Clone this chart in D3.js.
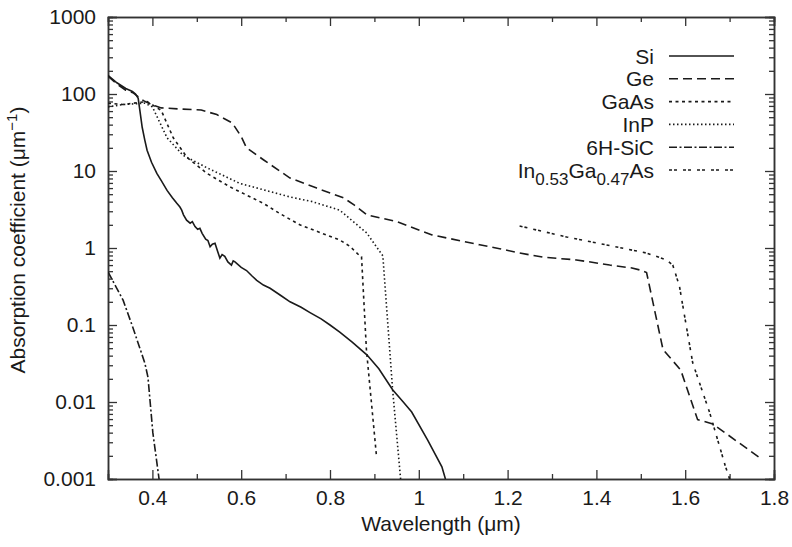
<!DOCTYPE html>
<html>
<head>
<meta charset="utf-8">
<script src="https://cdn.jsdelivr.net/npm/d3@7"></script>
<style>
    body { margin: 0; background: #fff; }
    text { font-family: "Liberation Sans", Arial, Helvetica, sans-serif; fill: #1a1a1a; }
    .axis path, .axis line { stroke: #333; }
    .curve { fill: none; stroke: #1a1a1a; stroke-width: 1.6; }
</style>
</head>
<body>
<div id="chart"></div>
<script>

// absorption coefficient (um^-1) against wavelength (um)
var si = [[0.300, 175], [0.320, 140], [0.340, 118], [0.355, 108], [0.362, 100], [0.368, 88], [0.372, 60],
    [0.377, 37], [0.383, 25], [0.388, 18.6], [0.398, 13], [0.410, 9.3], [0.420, 7.5], [0.433, 5.6],
    [0.445, 4.5], [0.455, 3.8], [0.462, 3.4], [0.466, 3.1], [0.470, 2.7], [0.477, 2.3], [0.485, 2.1],
    [0.490, 2.2], [0.496, 1.9], [0.502, 1.75], [0.507, 1.8], [0.512, 1.55], [0.520, 1.3], [0.525, 1.25],
    [0.530, 1.04], [0.535, 1.12], [0.541, 1.15], [0.547, 0.9], [0.552, 0.74], [0.557, 0.82], [0.563, 0.78],
    [0.570, 0.66], [0.578, 0.60], [0.582, 0.68], [0.586, 0.66], [0.600, 0.56], [0.612, 0.51], [0.625, 0.43],
    [0.635, 0.38], [0.650, 0.33], [0.665, 0.30], [0.690, 0.24], [0.710, 0.20], [0.735, 0.17], [0.755, 0.145],
    [0.780, 0.12], [0.800, 0.10], [0.822, 0.081], [0.850, 0.06], [0.883, 0.041], [0.910, 0.027],
    [0.941, 0.0144], [0.965, 0.010], [0.984, 0.0074], [1.020, 0.0032], [1.052, 0.00144], [1.060, 0.001]];

var ge = [[0.300, 170], [0.320, 135], [0.340, 112], [0.356, 104], [0.380, 82], [0.400, 72], [0.420, 66],
    [0.460, 64], [0.510, 62], [0.545, 54], [0.580, 42], [0.600, 28], [0.612, 20], [0.650, 14], [0.710, 8.1],
    [0.770, 6.0], [0.830, 4.5], [0.855, 3.6], [0.883, 2.7], [0.950, 2.2], [1.030, 1.48], [1.137, 1.1],
    [1.182, 0.98], [1.227, 0.86], [1.280, 0.76], [1.355, 0.70], [1.400, 0.64], [1.430, 0.60], [1.480, 0.55],
    [1.497, 0.52], [1.513, 0.48], [1.550, 0.048], [1.590, 0.026], [1.628, 0.0059], [1.662, 0.0052],
    [1.767, 0.0019]];

var gaas = [[0.300, 76], [0.333, 73], [0.388, 80], [0.420, 61], [0.447, 27], [0.478, 15], [0.523, 9.3],
    [0.575, 6.2], [0.650, 3.8], [0.687, 2.8], [0.732, 2.0], [0.822, 1.27], [0.845, 1.05], [0.867, 0.79],
    [0.871, 0.77], [0.882, 0.048], [0.905, 0.0019]];

var inp = [[0.300, 68], [0.333, 73], [0.383, 76], [0.400, 68], [0.433, 27], [0.469, 16], [0.523, 11],
    [0.597, 6.9], [0.710, 4.6], [0.760, 4.0], [0.822, 3.1], [0.883, 1.56], [0.919, 0.79], [0.941, 0.0145],
    [0.959, 0.001]];

var sic = [[0.300, 0.49], [0.334, 0.21], [0.356, 0.093], [0.383, 0.032], [0.390, 0.021], [0.401, 0.004],
    [0.415, 0.001]];

var ingaas = [[1.227, 1.93], [1.333, 1.39], [1.446, 1.03], [1.513, 0.86], [1.558, 0.70], [1.572, 0.60],
    [1.587, 0.32], [1.605, 0.08], [1.617, 0.032], [1.655, 0.0073], [1.690, 0.0015], [1.700, 0.001]];

var seriesNames = ['Si', 'Ge', 'GaAs', 'InP', '6H-SiC', 'InGaAs'];
var seriesData = [si, ge, gaas, inp, sic, ingaas];
var dashes = ['none', '9,5', '3,3.5', '1.5,2.5', '8,2.5,2,2.5', '3,2,3,6'];

var xTicks = [0.4, 0.6, 0.8, 1, 1.2, 1.4, 1.6, 1.8];
var xMinor = [0.3, 0.5, 0.7, 0.9, 1.1, 1.3, 1.5, 1.7];
var yTicks = [0.001, 0.01, 0.1, 1, 10, 100, 1000];
var yTickLabels = ['0.001', '0.01', '0.1', '1', '10', '100', '1000'];


var width = 792, height = 547;
var margin = { top: 17, right: 18, bottom: 68, left: 108 };
var w = width - margin.left - margin.right;
var h = height - margin.top - margin.bottom;

var svg = d3.select('#chart')
    .append('svg')
    .attr('width', width)
    .attr('height', height);

var g = svg.append('g')
    .attr('transform', 'translate(' + margin.left + ',' + margin.top + ')');

var x = d3.scaleLinear().domain([0.3, 1.8]).range([0, w]);
var y = d3.scaleLog().domain([0.001, 1000]).range([h, 0]);

// minor log ticks 2..9 in every decade
var yMinor = [];
yTicks.slice(0, -1).forEach(function (d) {
    for (var k = 2; k <= 9; k++) yMinor.push(d * k);
});

g.append('defs').append('clipPath')
    .attr('id', 'clip')
    .append('rect')
    .attr('width', w)
    .attr('height', h);

// axes: ticks point inward on all four sides
var fmtY = function (d) { return yTickLabels[yTicks.indexOf(d)]; };

g.append('g').attr('class', 'axis')
    .attr('transform', 'translate(0,' + h + ')')
    .call(d3.axisBottom(x).tickValues(xTicks).tickSize(-9).tickPadding(11).tickFormat(d3.format('')));
g.append('g').attr('class', 'axis')
    .attr('transform', 'translate(0,' + h + ')')
    .call(d3.axisBottom(x).tickValues(xMinor).tickSize(-5).tickFormat(''));
g.append('g').attr('class', 'axis')
    .call(d3.axisTop(x).tickValues(xTicks).tickSize(-9).tickFormat(''));
g.append('g').attr('class', 'axis')
    .call(d3.axisTop(x).tickValues(xMinor).tickSize(-5).tickFormat(''));

g.append('g').attr('class', 'axis')
    .call(d3.axisLeft(y).tickValues(yTicks).tickSize(-9).tickPadding(12).tickFormat(fmtY));
g.append('g').attr('class', 'axis')
    .call(d3.axisLeft(y).tickValues(yMinor).tickSize(-5).tickFormat(''));
g.append('g').attr('class', 'axis')
    .attr('transform', 'translate(' + w + ',0)')
    .call(d3.axisRight(y).tickValues(yTicks).tickSize(-9).tickFormat(''));
g.append('g').attr('class', 'axis')
    .attr('transform', 'translate(' + w + ',0)')
    .call(d3.axisRight(y).tickValues(yMinor).tickSize(-5).tickFormat(''));

g.selectAll('.axis path').attr('stroke-width', 1.5);
g.selectAll('.axis line').attr('stroke-width', 1.3);
g.selectAll('.axis text').style('font-size', '21px').attr('fill', '#1a1a1a');

// curves
var line = d3.line()
    .x(function (d) { return x(d[0]); })
    .y(function (d) { return y(d[1]); });

g.append('g')
    .attr('clip-path', 'url(#clip)')
    .selectAll('.curve')
    .data(seriesData)
    .enter()
    .append('path')
    .attr('class', 'curve')
    .attr('stroke-dasharray', function (d, i) { return dashes[i]; })
    .attr('d', line);

// legend
var legend = g.append('g').attr('class', 'legend');
var rowY = d3.scalePoint().domain(seriesNames).range([39, 153]);

var rows = legend.selectAll('.row')
    .data(seriesNames)
    .enter()
    .append('g')
    .attr('class', 'row')
    .attr('transform', function (d) { return 'translate(0,' + rowY(d) + ')'; });

rows.append('line')
    .attr('x1', 561).attr('x2', 626)
    .attr('stroke', '#1a1a1a')
    .attr('stroke-width', 1.6)
    .attr('stroke-dasharray', function (d, i) { return dashes[i]; });

var labels = rows.append('text')
    .attr('x', 546)
    .attr('dy', '0.36em')
    .attr('text-anchor', 'end')
    .style('font-size', '21px');

labels.filter(function (d) { return d !== 'InGaAs'; }).text(function (d) { return d; });

var ing = labels.filter(function (d) { return d === 'InGaAs'; });
ing.append('tspan').text('In');
ing.append('tspan').attr('dy', 7).style('font-size', '17px').text('0.53');
ing.append('tspan').attr('dy', -7).text('Ga');
ing.append('tspan').attr('dy', 7).style('font-size', '17px').text('0.47');
ing.append('tspan').attr('dy', -7).text('As');

// axis titles
g.append('text')
    .attr('x', w / 2)
    .attr('y', h + 52)
    .attr('text-anchor', 'middle')
    .style('font-size', '21px')
    .text('Wavelength (\u03bcm)');

var yl = g.append('text')
    .attr('transform', 'rotate(-90)')
    .attr('x', -h / 2 + 8)
    .attr('y', -83)
    .attr('text-anchor', 'middle')
    .style('font-size', '21px');
yl.append('tspan').text('Absorption coefficient (\u03bcm');
yl.append('tspan').attr('dy', -8).style('font-size', '15px').text('\u22121');
yl.append('tspan').attr('dy', 8).text(')');

</script>
</body>
</html>
